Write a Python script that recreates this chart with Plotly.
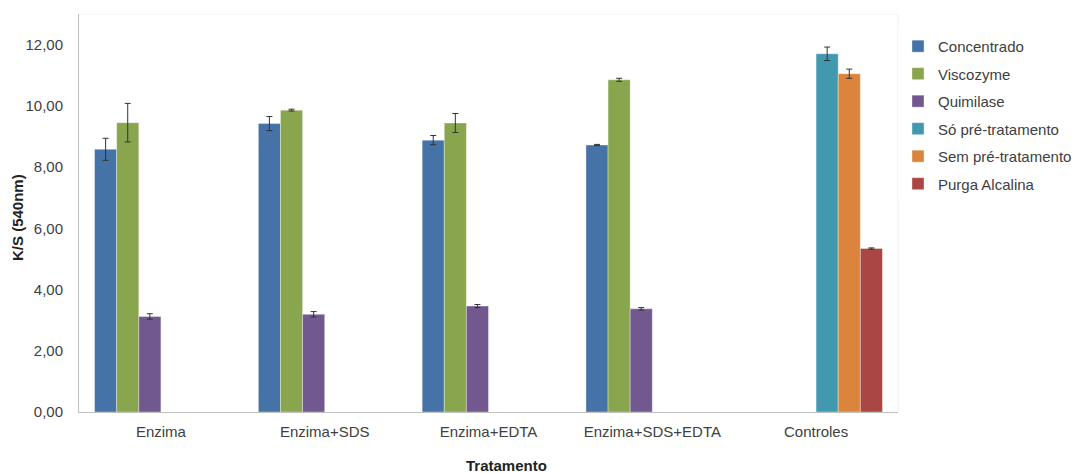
import plotly.graph_objects as go

# Treatments on the x axis
categories = ["Enzima", "Enzima+SDS", "Enzima+EDTA", "Enzima+SDS+EDTA", "Controles"]

# K/S (540 nm) means and standard deviations per series (None = not measured)
concentrado = [8.58, 9.42, 8.88, 8.72, None]
concentrado_err = [0.36, 0.23, 0.15, 0.02, None]
viscozyme = [9.45, 9.86, 9.44, 10.85, None]
viscozyme_err = [0.63, 0.03, 0.31, 0.05, None]
quimilase = [3.12, 3.19, 3.46, 3.37, None]
quimilase_err = [0.09, 0.09, 0.05, 0.04, None]
so_pre = [None, None, None, None, 11.70]
so_pre_err = [None, None, None, None, 0.22]
sem_pre = [None, None, None, None, 11.05]
sem_pre_err = [None, None, None, None, 0.15]
purga = [None, None, None, None, 5.34]
purga_err = [None, None, None, None, 0.02]

series = [
    ("Concentrado", concentrado, concentrado_err, "#4572A7"),
    ("Viscozyme", viscozyme, viscozyme_err, "#89A54E"),
    ("Quimilase", quimilase, quimilase_err, "#71588F"),
    ("Só pré-tratamento", so_pre, so_pre_err, "#4198AF"),
    ("Sem pré-tratamento", sem_pre, sem_pre_err, "#DB843D"),
    ("Purga Alcalina", purga, purga_err, "#AA4643"),
]

fig = go.Figure()
for i, (name, vals, errs, color) in enumerate(series):
    fig.add_trace(go.Bar(
        name=name,
        x=categories,
        y=vals,
        legendgroup=f"g{i}",
        marker=dict(color=color, line=dict(width=0.6, color="rgba(255,255,255,0.6)")),
        error_y=dict(type="data", array=errs, visible=True,
                     color="#333333", thickness=1, width=3),
    ))

font_family = "Liberation Sans, Arial, sans-serif"
text_color = "#404040"

fig.update_layout(
    width=1074,
    height=473,
    barmode="group",
    bargap=0.19,
    bargroupgap=0,
    separators=",.",
    plot_bgcolor="white",
    paper_bgcolor="white",
    margin=dict(l=79, r=176, t=14, b=61, autoexpand=False),
    font=dict(family=font_family, size=15, color=text_color),
    legend=dict(
        x=1.0, y=0.96, xanchor="left", yanchor="top",
        font=dict(size=15, color=text_color),
        tracegroupgap=5,
        itemwidth=30,
    ),
    xaxis=dict(
        showline=True, linecolor="#bfbfbf", linewidth=1,
        ticks="", showgrid=False,
        tickfont=dict(size=15, color=text_color),
        ticklabelstandoff=6,
    ),
    yaxis=dict(
        range=[0, 13],
        tickvals=[0, 2, 4, 6, 8, 10, 12],
        tickformat=".2f",
        showline=True, linecolor="#bfbfbf", linewidth=1,
        ticks="", showgrid=False, zeroline=False,
        tickfont=dict(size=15, color=text_color),
        ticklabelstandoff=12,
    ),
    annotations=[
        dict(text="<b>Tratamento</b>", xref="paper", yref="paper", x=0.5, y=0,
             xanchor="center", yanchor="middle", xshift=18, yshift=-53,
             showarrow=False, font=dict(size=15, color="#222222")),
        dict(text="<b>K/S (540nm)</b>", xref="paper", yref="paper", x=0, y=0.5,
             xanchor="center", yanchor="middle", xshift=-62, yshift=-5, textangle=-90,
             showarrow=False, font=dict(size=15, color="#222222")),
    ],
)

# faint frame on the top and right of the plotting area
fig.add_shape(type="line", xref="paper", yref="paper", x0=1, x1=1, y0=0, y1=1,
              line=dict(color="#eeeeee", width=1))
fig.add_shape(type="line", xref="paper", yref="paper", x0=0, x1=1, y0=1, y1=1,
              line=dict(color="#f2f2f2", width=1))

fig.write_html("out.html")
